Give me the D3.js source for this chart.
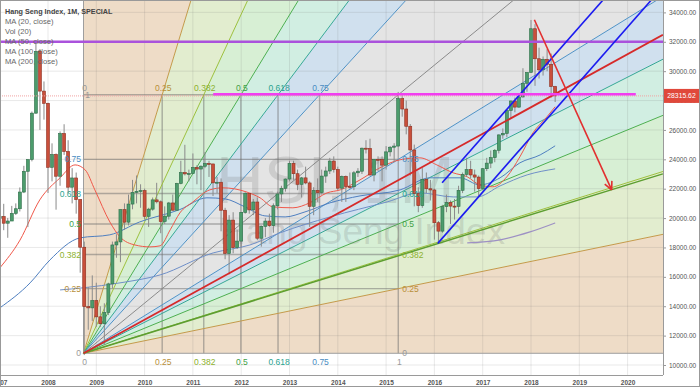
<!DOCTYPE html>
<html>
<head>
<meta charset="utf-8">
<script src="https://cdnjs.cloudflare.com/ajax/libs/d3/7.8.5/d3.min.js"></script>
<style>
  body { margin: 0; background: #fff; }
  svg { display: block; font-family: "Liberation Sans", Arial, sans-serif; }
</style>
</head>
<body>
<div id="chart"></div>
<script>
// Monthly candles, Jan 2007 .. Jul 2018
var firstYear = 2007;
var opens = [
  19964,20106,19651,19800,20319,20635,21773,23185,23984,27142,31352,28643,
  27812,23456,24331,22849,25755,24533,22102,22731,21261,18016,13969,13888,
  14387,13278,12811,13576,15521,18171,18378,20573,19724,20955,21752,21821,
  21873,20122,20608,21239,21108,19765,20129,21029,20536,22358,23096,23008,
  23035,23447,23338,23528,23720,23684,22398,22440,20535,17592,19864,17989,
  18434,20390,21680,20556,21094,18630,19441,19796,19482,20840,21642,22030,
  22657,23730,23020,22300,22737,22392,20803,21884,21731,22859,23206,23881,
  23306,22035,22837,22151,22134,23082,23191,24757,24742,22933,23998,23987,
  23605,24507,24823,24901,28133,27424,26250,24636,21671,20846,22640,21996,
  21914,19683,19112,20777,21067,20815,20794,21891,22977,23297,22935,22790,
  22001,23361,23741,24112,24615,25661,25765,27323,27970,27554,28246,29177,
  29919,32887,30845,30093,30808,30469,28955
];
var highs = [
  20971,20971,20008,20832,21000,22085,23557,24000,27254,31958,31500,29300,
  27853,25087,24400,25900,26387,25300,23400,23100,21300,18400,15300,16100,
  15600,14000,14200,15600,18400,18900,20600,21000,21600,22600,22900,22300,
  22000,20700,21400,22400,21200,20800,21100,21600,22400,23900,24988,23300,
  24400,23600,23600,24500,23900,23700,22800,22700,20700,20200,20400,19200,
  20400,21760,21700,21300,21400,19500,20000,20300,21000,21800,22200,22700,
  23900,23900,23300,22800,23500,22500,22100,22700,23300,23500,24100,24200,
  23500,22900,22900,23100,23200,23400,24800,25300,25400,23700,24200,24200,
  24900,24900,25100,28588,28500,28000,26400,25000,22100,23400,23100,22600,
  22000,19800,20900,21600,21200,21300,22200,23100,24100,23900,23300,22900,
  23400,24100,24600,24700,25700,26100,27400,28000,28200,28500,30200,29900,
  33484,33200,31600,31000,31500,31200,29000
];
var lows = [
  19732,19175,18659,19800,20213,20450,21700,19386,23860,27100,26000,26700,
  21709,22500,20572,22200,24300,21700,21000,20300,16283,10676,12400,13000,
  12600,12600,11345,13400,15200,17300,17000,19200,19500,20600,21000,20700,
  19900,19400,20500,21000,18970,19600,19900,20500,20500,22300,22900,22500,
  23000,22300,21900,23400,22800,21500,21700,19100,17200,16170,17600,17900,
  18000,20300,20300,20200,18500,18056,18700,19400,19000,20600,21100,21800,
  22500,22600,21900,21400,22300,19400,20200,21100,21600,22400,23000,23100,
  21900,21100,21100,22000,21900,22800,23000,24400,22900,22500,23200,22500,
  23300,24200,23800,24900,26900,25700,22900,20800,20400,20700,21700,21200,
  18534,18278,19000,20400,19600,19900,20300,21700,22800,22700,21800,21500,
  21900,23200,23400,23800,24400,25400,25500,26800,27200,27500,28200,28600,
  29900,29000,29500,29700,30000,28200,27900
];
var closes = [
  20106,19651,19800,20319,20635,21773,23185,23984,27142,31352,28643,27812,
  23456,24331,22849,25755,24533,22102,22731,21261,18016,13969,13888,14387,
  13278,12811,13576,15521,18171,18378,20573,19724,20955,21752,21821,21873,
  20122,20608,21239,21108,19765,20129,21029,20536,22358,23096,23008,23035,
  23447,23338,23528,23720,23684,22398,22440,20535,17592,19864,17989,18434,
  20390,21680,20556,21094,18630,19441,19796,19482,20840,21642,22030,22657,
  23730,23020,22300,22737,22392,20803,21884,21731,22859,23206,23881,23306,
  22035,22837,22151,22134,23082,23191,24757,24742,22933,23998,23987,23605,
  24507,24823,24901,28133,27424,26250,24636,21671,20846,22640,21996,21914,
  19683,19112,20777,21067,20815,20794,21891,22977,23297,22935,22790,22001,
  23361,23741,24112,24615,25661,25765,27323,27970,27554,28246,29177,29919,
  32887,30845,30093,30808,30469,28955,28316
];

// Moving averages: [decimal year, value]
var ma20 = [[2007.0,16600],[2007.42,18500],[2007.83,21240],[2008.25,22740],[2008.56,23620],[2008.77,23280],
  [2008.97,21920],[2009.28,19740],[2009.49,18720],[2009.8,18170],[2010.11,18040],[2010.32,18110],[2010.53,19200],
  [2010.73,20350],[2011.0,21100],[2011.35,21920],[2011.62,22060],[2012.1,21790],[2012.39,21380],[2012.66,20760],
  [2013.07,20700],[2013.42,21040],[2013.78,21720],[2014.05,21920],[2014.46,22600],[2014.87,23420],[2015.29,23970],
  [2015.7,24100],[2016.05,23620],[2016.39,23080],[2016.68,22810],[2016.94,22260],[2017.21,22130],[2017.5,22810],
  [2017.77,24170],[2018.04,25800],[2018.33,26890],[2018.5,27580]];
var ma50 = [[2007.0,13880],[2007.63,15590],[2008.04,17150],[2008.66,18650],[2009.28,18860],[2009.9,19740],
  [2010.73,20580],[2011.29,21380],[2011.66,21310],[2012.08,20760],[2012.49,20150],[2012.91,20080],[2013.32,20420],
  [2013.84,21040],[2014.46,21510],[2015.29,21920],[2015.91,22740],[2016.53,22740],[2016.94,22260],[2017.36,22740],
  [2017.77,23760],[2018.19,24300],[2018.5,24920]];
var ma100 = [[2008.25,15110],[2008.72,15250],[2009.49,15590],[2010.32,16130],[2011.42,17630],[2012.18,18170],
  [2012.8,18990],[2013.84,20080],[2015.02,21100],[2015.7,21720],[2016.39,21440],[2016.88,21440],[2017.36,22190],
  [2017.92,22940],[2018.5,23350]];
var ma200 = [[2016.68,18310],[2017.36,18520],[2017.98,19060],[2018.5,19670]];

// Fib speed fan anchors and levels
var fanStart = [2008.735, 10797];
var fanEnd = [2015.252, 28392];
var fibLevels = [0, 0.25, 0.382, 0.5, 0.618, 0.75, 1];

// hand drawn lines
var redTrend = [[2008.735, 10797], [2020.73, 32480]];
var greenTrend = [[2008.735, 10797], [2020.73, 23010]];
var channelUpper = [[2016.16, 22400], [2019.8, 36000]];
var channelLower = [[2016.07, 18280], [2020.8, 36000]];
var arrowLine = [[2018.07, 33500], [2019.67, 21920]];
var magentaLine = [[2011.42, 28430], [2020.17, 28430]];
var purpleLevel = 32000;
var lastPrice = 28315.62;

var yearTicks = [2007,2008,2009,2010,2011,2012,2013,2014,2015,2016,2017,2018,2019,2020];
var priceTicks = [10000,12000,14000,16000,18000,20000,22000,24000,26000,28000,30000,32000,34000];
var legendLines = ["MA (20, close)", "Vol (20)", "MA (50, close)", "MA (100, close)", "MA (200, close)"];

var W = 700, H = 387;
var plotR = 663, plotB = 375;

var x = d3.scaleLinear().domain([2008, 2020]).range([48, 627.6]);
var y = d3.scaleLinear().domain([10000, 34000]).range([365, 12.4]);

var fillCol = {0.25: "#eedcc7", 0.382: "#e2edcf", 0.5: "#d7efd4", 0.618: "#d1eee2", 0.75: "#d0e0ee", 1: "#e4e4e4"};
var lineCol = {0: "#9e9e9e", 0.25: "#c49a4a", 0.382: "#9cc03d", 0.5: "#4caf50", 0.618: "#35a795", 0.75: "#4f92c6", 1: "#8a8a8a"};
var textCol = {0: "#999", 0.25: "#b8903a", 0.382: "#8db12e", 0.5: "#43a047", 0.618: "#2aa38f", 0.75: "#4a8cc2", 1: "#999"};

var svg = d3.select("#chart").append("svg").attr("width", W).attr("height", H);
svg.append("rect").attr("width", W).attr("height", H).attr("fill", "#fff");
svg.append("defs").append("clipPath").attr("id", "clip")
  .append("rect").attr("x", 0).attr("y", 0).attr("width", plotR).attr("height", plotB);
var g = svg.append("g").attr("clip-path", "url(#clip)");

// fan geometry
var fx0 = x(fanStart[0]), fy0 = y(fanStart[1]), fx1 = x(fanEnd[0]), fy1 = y(fanEnd[1]);
var fw = fx1 - fx0, fh = fy0 - fy1;
var rays = fibLevels.map(function(L) { return {L: L, dx: L * fw, dy: -fh}; })
  .concat(fibLevels.slice(0, -1).reverse().map(function(L) { return {L: L, dx: fw, dy: -L * fh}; }));
var far = 30;

// fills between rays
for (var i = 0; i < rays.length - 1; i++) {
  var a = rays[i], b = rays[i + 1], lv = Math.max(a.L, b.L);
  g.append("path")
    .attr("d", "M" + fx0 + "," + fy0 + "L" + (fx0 + a.dx * far) + "," + (fy0 + a.dy * far) +
      "L" + (fx0 + b.dx * far) + "," + (fy0 + b.dy * far) + "Z")
    .attr("fill", fillCol[lv]);
}

// grid
g.selectAll(".vgrid").data(yearTicks).enter().append("line")
  .attr("x1", d => x(d)).attr("x2", d => x(d)).attr("y1", 0).attr("y2", plotB)
  .attr("stroke", "rgba(110,110,110,0.15)");
g.selectAll(".hgrid").data(priceTicks).enter().append("line")
  .attr("x1", 0).attr("x2", plotR).attr("y1", d => y(d)).attr("y2", d => y(d))
  .attr("stroke", "rgba(110,110,110,0.15)");

// fib box grid
var inner = fibLevels.slice(1);
g.selectAll(".boxv").data(inner).enter().append("line")
  .attr("x1", d => fx0 + d * fw).attr("x2", d => fx0 + d * fw)
  .attr("y1", fy1).attr("y2", fy0)
  .attr("stroke", "rgba(110,110,110,0.5)").attr("stroke-width", 1.4);
g.selectAll(".boxh").data(inner).enter().append("line")
  .attr("x1", fx0).attr("x2", fx1)
  .attr("y1", d => fy0 - d * fh).attr("y2", d => fy0 - d * fh)
  .attr("stroke", "rgba(110,110,110,0.5)").attr("stroke-width", 1.4);

// fan rays
rays.forEach(function(r) {
  g.append("line")
    .attr("x1", fx0).attr("y1", fy0)
    .attr("x2", fx0 + r.dx * far).attr("y2", fy0 + r.dy * far)
    .attr("stroke", lineCol[r.L]).attr("stroke-width", 1);
});

// watermark
g.append("text").attr("x", 216).attr("y", 203)
  .attr("font-size", 66).attr("fill", "rgba(110,110,110,0.2)").text("HSI, 1M");
g.append("text").attr("x", 219).attr("y", 244)
  .attr("font-size", 37).attr("fill", "rgba(110,110,110,0.2)").text("Hang Seng Index");

// moving averages
var maLine = d3.line().x(d => x(d[0])).y(d => y(d[1])).curve(d3.curveMonotoneX);
[[ma200, "#9d90c4", 1.2], [ma100, "#6f8fc8", 1], [ma50, "#4f7fc0", 1], [ma20, "#f0584a", 1]].forEach(function(m) {
  g.append("path").attr("d", maLine(m[0])).attr("fill", "none")
    .attr("stroke", m[1]).attr("stroke-width", m[2]);
});

// candles
var months = d3.range(closes.length);
var tOf = i => firstYear + i / 12;
var cg = g.append("g");
cg.selectAll(".wick").data(months).enter().append("line")
  .attr("x1", i => x(tOf(i))).attr("x2", i => x(tOf(i)))
  .attr("y1", i => y(highs[i])).attr("y2", i => y(lows[i]))
  .attr("stroke", "#8a8a8a").attr("stroke-width", 1);
cg.selectAll(".body").data(months).enter().append("rect")
  .attr("x", i => x(tOf(i)) - 1.5).attr("width", 3)
  .attr("y", i => Math.min(y(opens[i]), y(closes[i])))
  .attr("height", i => Math.max(1, Math.abs(y(opens[i]) - y(closes[i]))))
  .attr("fill", i => closes[i] >= opens[i] ? "#4c9c6c" : "#c94f3b")
  .attr("stroke", i => closes[i] >= opens[i] ? "#2f6e4a" : "#8e3020")
  .attr("stroke-width", 0.6);

// hand drawn lines
var seg = d3.line().x(d => x(d[0])).y(d => y(d[1]));
g.append("line").attr("x1", 0).attr("x2", plotR).attr("y1", y(lastPrice)).attr("y2", y(lastPrice))
  .attr("stroke", "#f2a3a3").attr("stroke-dasharray", "1,1");
g.append("line").attr("x1", 0).attr("x2", plotR).attr("y1", y(purpleLevel)).attr("y2", y(purpleLevel))
  .attr("stroke", "#aa52dc").attr("stroke-width", 2.4);
g.append("path").attr("d", seg(greenTrend)).attr("stroke", "#5c9e30").attr("stroke-width", 1.5).attr("fill", "none");
g.append("path").attr("d", seg(redTrend)).attr("stroke", "#d62a2a").attr("stroke-width", 1.8).attr("fill", "none");
g.append("path").attr("d", seg(channelUpper)).attr("stroke", "#1b1bf0").attr("stroke-width", 1.6).attr("fill", "none");
g.append("path").attr("d", seg(channelLower)).attr("stroke", "#1b1bf0").attr("stroke-width", 1.6).attr("fill", "none");
g.append("path").attr("d", seg(magentaLine)).attr("stroke", "#f13ef0").attr("stroke-width", 2.6).attr("fill", "none");
g.append("path").attr("d", seg(arrowLine)).attr("stroke", "#e23030").attr("stroke-width", 1.6).attr("fill", "none");
(function() {
  var ex = x(arrowLine[1][0]), ey = y(arrowLine[1][1]);
  var ang = Math.atan2(ey - y(arrowLine[0][1]), ex - x(arrowLine[0][0]));
  [-0.45, 0.45].forEach(function(da) {
    g.append("line").attr("x1", ex).attr("y1", ey)
      .attr("x2", ex - 9 * Math.cos(ang + da)).attr("y2", ey - 9 * Math.sin(ang + da))
      .attr("stroke", "#e23030").attr("stroke-width", 1.6);
  });
})();

// fan labels
var lab = svg.append("g").attr("font-size", 8.5);
fibLevels.slice(0, -1).forEach(function(L) {
  lab.append("text").attr("x", fx0 + L * fw + 1).attr("y", fy1 - 4).attr("text-anchor", "middle")
    .attr("fill", textCol[L]).text(L);
});
fibLevels.forEach(function(L) {
  lab.append("text").attr("x", fx0 + L * fw + 1).attr("y", plotB - 10).attr("text-anchor", "middle")
    .attr("fill", textCol[L]).text(L);
});
fibLevels.slice(0, -1).forEach(function(L) {
  lab.append("text").attr("x", fx0 - 2.5).attr("y", fy0 - L * fh + 3).attr("text-anchor", "end")
    .attr("fill", textCol[L]).text(L);
  lab.append("text").attr("x", fx1 + 4).attr("y", fy0 - L * fh + 3)
    .attr("fill", textCol[L]).text(L);
});
lab.append("text").attr("x", fx0 + 4).attr("y", fy1 + 3).attr("text-anchor", "middle")
  .attr("fill", textCol[1]).text(1);

// axes
var yAxis = svg.append("g").attr("transform", "translate(" + plotR + ",0)")
  .call(d3.axisRight(y).tickValues(priceTicks).tickFormat(d3.format(".2f")).tickSize(3).tickPadding(3));
yAxis.select(".domain").attr("d", "M0.5,0V" + plotB).attr("stroke", "#9a9a9a");
yAxis.selectAll(".tick line").attr("stroke", "#9a9a9a");
yAxis.selectAll("text").attr("font-size", 6.5).attr("fill", "#555").attr("font-family", "Liberation Sans, Arial, sans-serif");

var xAxis = svg.append("g").attr("transform", "translate(0," + plotB + ")")
  .call(d3.axisBottom(x).tickValues(yearTicks).tickFormat(d3.format("d")).tickSize(0).tickPadding(5));
xAxis.select(".domain").attr("d", "M0,0.5H" + plotR).attr("stroke", "#9a9a9a");
xAxis.selectAll("text").attr("font-size", 6.5).attr("font-weight", "bold").attr("fill", "#555")
  .attr("font-family", "Liberation Sans, Arial, sans-serif");

// last price tag
svg.append("rect").attr("x", 664).attr("y", y(lastPrice) - 7).attr("width", 35).attr("height", 14)
  .attr("fill", "#e0483b");
svg.append("text").attr("x", 681.5).attr("y", y(lastPrice) + 2.5).attr("text-anchor", "middle")
  .attr("font-size", 6.8).attr("fill", "#fff").text(d3.format(".2f")(lastPrice));

// legend
var leg = svg.append("g");
leg.append("text").attr("x", 5).attr("y", 13.5).attr("font-size", 7.2).attr("font-weight", "bold")
  .attr("fill", "#444").text("Hang Seng Index, 1M, SPECIAL");
leg.selectAll(".l").data(legendLines).enter().append("text")
  .attr("x", 5).attr("y", (d, i) => 23.5 + i * 10).attr("font-size", 7.6).attr("fill", "#666").text(d => d);

svg.append("rect").attr("x", 0.5).attr("y", 0.5).attr("width", W - 1).attr("height", H - 1)
  .attr("fill", "none").attr("stroke", "#999");
</script>
</body>
</html>
